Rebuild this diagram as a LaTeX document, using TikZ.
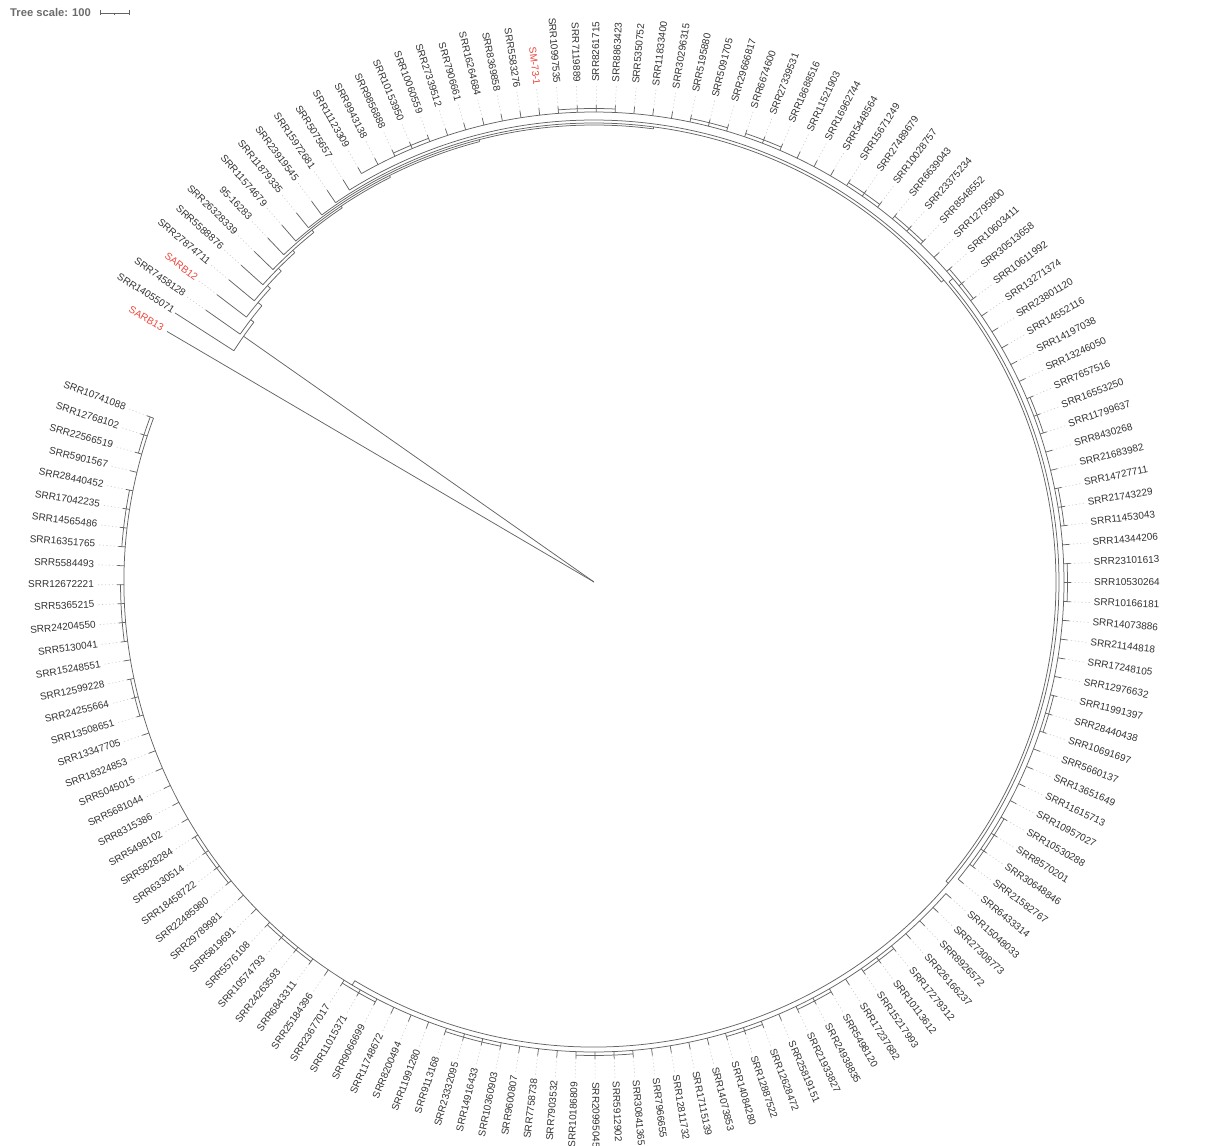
\documentclass[tikz,border=0pt]{standalone}
\usepackage{fontspec}
\setmainfont{Liberation Sans}
\usepackage{tikz}

\definecolor{branchgray}{RGB}{100,100,100}
\definecolor{leafgray}{RGB}{50,50,50}
\definecolor{leafred}{RGB}{235,70,60}

\tikzset{
  branch/.style={draw=branchgray, line width=0.75pt},
  leader/.style={draw=black!20, line width=0.6pt, dash pattern=on 1.2pt off 2.4pt},
  leaf/.style={font=\fontsize{10}{12}\selectfont, inner sep=2pt},
}

\newcommand{\leafang}[1]{159.6+(#1-1)*2.3026}

\begin{document}
\begin{tikzpicture}[x=1pt, y=1pt]
  \useasboundingbox (-594,-563) rectangle (615,582);
  \coordinate (root) at (0,0);

  % tree scale
  \node[font=\fontsize{11.2}{13}\selectfont\bfseries, text=black!58, anchor=west, inner sep=0pt] (scale) at (-584,569) {Tree scale: 100};
  \coordinate (sbl) at (-494,569);
  \coordinate (sbm) at (-479.5,569);
  \coordinate (sbr) at (-465,569);
  \draw[branch] (sbl) -- (sbr);
  \draw[branch] ([yshift=-2.5]sbl) -- ([yshift=2.5]sbl);
  \draw[branch] ([yshift=-2.5]sbr) -- ([yshift=2.5]sbr);
  \draw[branch] (sbm) -- ([yshift=-2]sbm);

  % leaves, tips and leader lines
  \foreach \name [count=\i] in {SRR10741088,SRR12768102,SRR22566519,SRR5901567,SRR28440452,SRR17042235,SRR14565486,SRR16351765,SRR5584493,SRR12672221,
      SRR5365215,SRR24204550,SRR5130041,SRR15248551,SRR12599228,SRR24255664,SRR13508651,SRR13347705,SRR18324853,SRR5045015,
      SRR5681044,SRR8315386,SRR5498102,SRR5828284,SRR6330514,SRR18458722,SRR22485980,SRR29789981,SRR5819691,SRR5576108,
      SRR10574793,SRR24263593,SRR6843311,SRR25184396,SRR23677017,SRR11015371,SRR9066699,SRR11748672,SRR8200494,SRR11991280,
      SRR9113168,SRR23332095,SRR14916433,SRR10360903,SRR9600807,SRR7758738,SRR7903532,SRR10186809,SRR20995045,SRR5912902,
      SRR30841365,SRR7966655,SRR12811732,SRR17115139,SRR14073853,SRR14084280,SRR12887522,SRR12628472,SRR25819151,SRR21933827,
      SRR24938835,SRR5498120,SRR17237682,SRR15217993,SRR10113612,SRR17279312,SRR26166237,SRR8926572,SRR27308773,SRR15048033,
      SRR6433314,SRR21582767,SRR30648846,SRR8570201,SRR10530288,SRR10957027,SRR11615713,SRR13651649,SRR5660137,SRR10691697,
      SRR28440438,SRR11991397,SRR12976632,SRR17248105,SRR21144818,SRR14073886,SRR10166181,SRR10530264,SRR23101613,SRR14344206,
      SRR11453043,SRR21743229,SRR14727711,SRR21683982,SRR8430268,SRR11799637,SRR16553250,SRR7657516,SRR13246050,SRR14197038,
      SRR14552116,SRR23801120,SRR13271374,SRR10611992,SRR30513658,SRR10603411,SRR12795800,SRR8548552,SRR23375234,SRR6639043,
      SRR10028757,SRR27489679,SRR15671249,SRR5448564,SRR16962744,SRR11521903,SRR18688516,SRR27339531,SRR6674600,SRR29666817,
      SRR5091705,SRR5195880,SRR30296315,SRR11833400,SRR5350752,SRR8863423,SRR8261715,SRR7119889,SRR10997535,SM-73-1,
      SRR5583276,SRR8369858,SRR16264684,SRR7906661,SRR27339512,SRR10060559,SRR10153950,SRR9856888,SRR9943138,SRR11123309,
      SRR5075657,SRR15972681,SRR23919545,SRR11879335,SRR11574679,95-16283,SRR26328339,SRR5588876,SRR27874711,SARB12,
      SRR7458128,SRR14055071,SARB13}{
    \pgfmathsetmacro\a{\leafang{\i}}
    \pgfmathtruncatemacro\side{(mod(\a,360)<90 || mod(\a,360)>270) ? 1 : 0}
    \def\col{leafgray}
    \ifnum\i=130 \def\col{leafred}\fi
    \ifnum\i=150 \def\col{leafred}\fi
    \ifnum\i=153 \def\col{leafred}\fi
    \ifnum\side=1
      \node[leaf, text=\col, anchor=mid west, rotate=\a] (l\i) at (\a:498) {\name};
      \def\anc{mid west}
    \else
      \pgfmathsetmacro\b{\a+180}
      \node[leaf, text=\col, anchor=mid east, rotate=\b] (l\i) at (\a:498) {\name};
      \def\anc{mid east}
    \fi
    \def\tr{477}
    \ifnum\i>140 \def\tr{474}\fi
    \ifnum\i=152 \def\tr{498}\fi
    \ifnum\i=153 \def\tr{495}\fi
    \coordinate (t\i) at (\a:\tr);
    \ifnum\i<152 \draw[leader] (t\i) -- (l\i.\anc);\fi
  }

  % outgroup straight from the root
  \draw[branch] (root) -- (t153);

  % ladder of nodes towards the big clade
  \foreach \k/\ang/\r/\rin/\afrom/\aleaf in {
      152/504.96/428/0/502.62/507.293,
      151/502.62/432/428/500.24/504.991,
      150/500.24/437/432/497.78/502.688,
      149/497.78/441/437/495.17/500.386,
      148/495.17/445/441/492.25/498.083,
      147/492.25/448/445/488.71/495.780,
      146/488.71/451/448/483.94/493.478,
      145/483.94/453/451/476.71/491.175,
      144/476.71/455/453/464.55/488.872,
      143/464.55/457/455/442.53/486.570,
      142/442.53/459/457/400.80/484.267,
      141/400.80/462/459/319.63/481.964}{
    \draw[branch] (\ang:\rin) -- (\ang:\r);
    \draw[branch] (\afrom:\r) arc[start angle=\afrom, end angle=\aleaf, radius=\r];
    \draw[branch] (\aleaf:\r) -- (t\k);
  }

  % big clade and its two halves
  \draw[branch] (319.63:462) -- (319.63:465);
  \draw[branch] (239.04:465) arc[start angle=239.04, end angle=400.22, radius=465];
  \foreach \ang/\afrom/\ato in {239.04/159.6/318.48, 400.22/320.78/479.66}{
    \draw[branch] (\ang:465) -- (\ang:470);
    \draw[branch] (\afrom:470) arc[start angle=\afrom, end angle=\ato, radius=470];
  }
  \foreach \i in {1,...,140}{
    \pgfmathsetmacro\a{\leafang{\i}}
    \draw[branch] (\a:470) -- (t\i);
  }

  % small sister groups
  \foreach \g/\h in {1/3, 5/8, 10/13, 15/17, 24/27, 30/33, 35/37, 41/44, 48/51, 56/58, 60/62, 64/66,
      72/75, 80/82, 87/89, 91/93, 96/98, 104/106, 108/110, 111/113, 117/119, 120/122, 126/129, 136/138}{
    \pgfmathsetmacro\ga{\leafang{\g}}
    \pgfmathsetmacro\ha{\leafang{\h}}
    \draw[branch] (\ga:473.5) arc[start angle=\ga, end angle=\ha, radius=473.5];
  }
\end{tikzpicture}
\end{document}
